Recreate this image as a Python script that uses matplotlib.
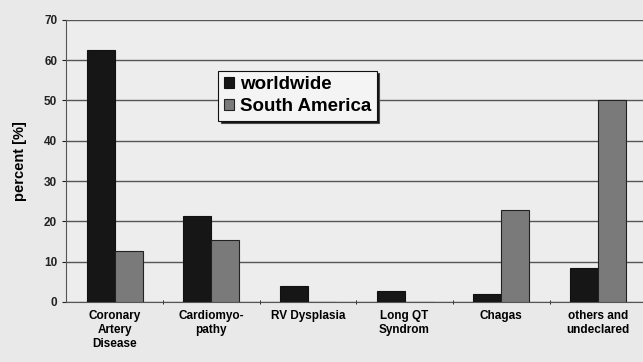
import numpy as np
import matplotlib.pyplot as plt

categories = ['Coronary\nArtery\nDisease', 'Cardiomyo-\npathy', 'RV Dysplasia',
              'Long QT\nSyndrom', 'Chagas', 'others and\nundeclared']
worldwide = [62.5, 21.3, 4.0, 2.7, 2.0, 8.4]
south_america = [12.7, 15.4, 0, 0, 22.8, 50.1]
yticks = [0, 10, 20, 30, 40, 50, 60, 70]

plt.rcParams['font.family'] = 'Liberation Sans'
plt.rcParams['font.weight'] = 'bold'

fig = plt.figure(figsize=(6.43, 3.62), dpi=100, facecolor='#e9e9e9')
ax = fig.add_axes([0.103, 0.166, 0.902, 0.779], facecolor='#ededed')

x = np.arange(len(categories))
w = 0.29
ax.bar(x - w / 2, worldwide, w, color='#161616', edgecolor='#111111', lw=0.8,
       label='worldwide', zorder=3)
ax.bar(x + w / 2, south_america, w, color='#7a7a7a', edgecolor='#222222', lw=0.8,
       label='South America', zorder=3)

ax.set_xlim(-0.5, len(categories) - 0.5)
ax.set_ylim(0, 70)
ax.set_yticks(yticks)
ax.set_xticks(x)
ax.set_xticklabels(categories, fontsize=8.5)
ax.tick_params(axis='y', labelsize=8.5, length=3, colors='#222222')
ax.tick_params(axis='x', length=0, pad=6)
ax.set_xticks(np.arange(0.5, len(categories) - 0.5, 1), minor=True)
ax.tick_params(axis='x', which='minor', length=3, direction='inout')
ax.grid(axis='y', color='#555555', lw=1, zorder=0)
for s in ['top', 'right']:
    ax.spines[s].set_visible(False)
ax.spines['left'].set_color('#555555')
ax.spines['bottom'].set_color('#555555')

ax.set_ylabel('percent [%]', fontsize=10.5, fontweight='bold', labelpad=12)

leg = ax.legend(loc='upper left', bbox_to_anchor=(0.262, 0.82), fontsize=13.5,
                frameon=True, shadow={'facecolor': '#111111', 'alpha': 1},
                fancybox=False, handlelength=0.55,
                handleheight=0.55, handletextpad=0.3, borderpad=0.3,
                labelspacing=0.25, borderaxespad=0)
leg.get_frame().set_edgecolor('#111111')
leg.get_frame().set_facecolor('#f4f4f4')
leg.get_frame().set_linewidth(0.8)

plt.savefig('out.png', dpi=100, facecolor=fig.get_facecolor())
